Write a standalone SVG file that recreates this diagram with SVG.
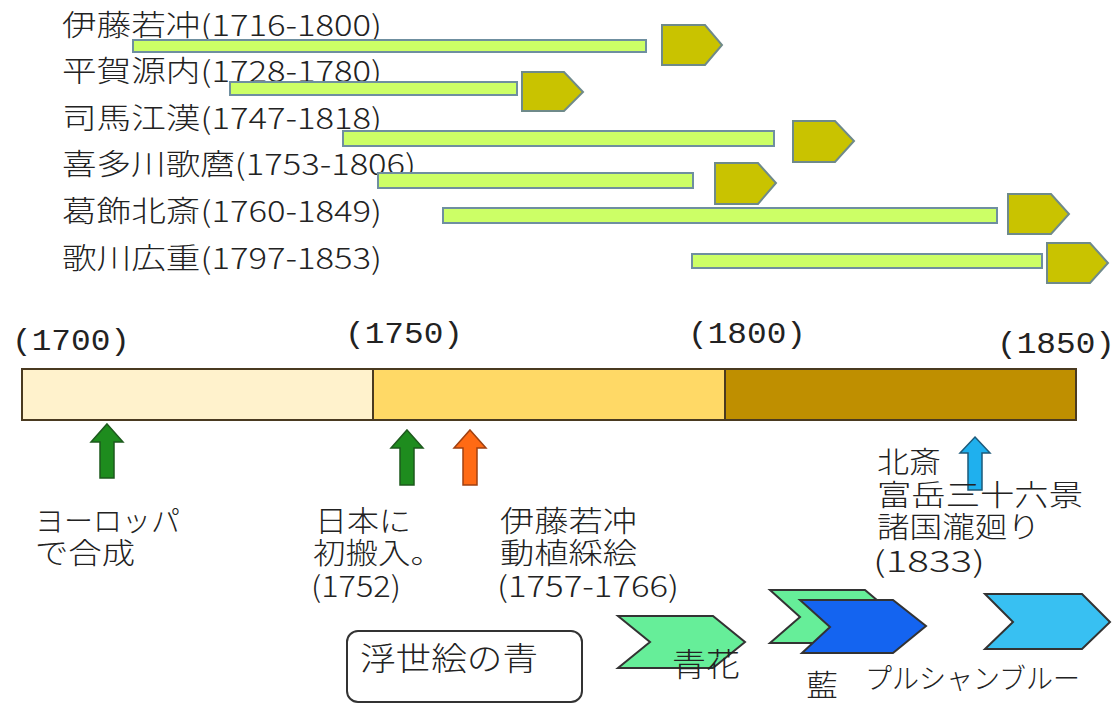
<svg xmlns="http://www.w3.org/2000/svg" width="1120" height="704" viewBox="0 0 1120 704">
<style>
.t{font-family:"Noto Sans CJK JP","Noto Sans",sans-serif;fill:#222;font-weight:300;}
.m{font-family:"Liberation Mono","DejaVu Sans Mono",monospace;fill:#222;}
.bar{fill:#ccff66;stroke:#6f8fa0;stroke-width:2;}
.pent{fill:#c9c300;stroke:#6f8a8a;stroke-width:2;}
.seg{stroke:#4a3a20;stroke-width:2;}
.ga{fill:#1e8c1e;stroke:#1d5a1d;stroke-width:1.5;}
.oa{fill:#ff6a14;stroke:#a04010;stroke-width:1.5;}
.ba{fill:#1fb0ee;stroke:#1d5a7a;stroke-width:1.5;}
.chev{stroke:#333;stroke-width:2;}
</style>
<rect width="1120" height="704" fill="#fff"/>

<g id="artists">
<g id="jakuchu">
<text class="t" x="62" y="36" font-size="29" textLength="320" lengthAdjust="spacingAndGlyphs">伊藤若冲(1716-1800)</text>
<rect class="bar" x="133" y="40" width="513" height="12"/>
<polygon class="pent" points="662,25 705,25 722,45 705,65 662,65"/>
</g>
<g id="gennai">
<text class="t" x="62" y="82" font-size="29" textLength="320" lengthAdjust="spacingAndGlyphs">平賀源内(1728-1780)</text>
<rect class="bar" x="230" y="82" width="287" height="13"/>
<polygon class="pent" points="522,72 564,72 583,92 564,111 522,111"/>
</g>
<g id="kokan">
<text class="t" x="62" y="129" font-size="29" textLength="320" lengthAdjust="spacingAndGlyphs">司馬江漢(1747-1818)</text>
<rect class="bar" x="343" y="131" width="431" height="15"/>
<polygon class="pent" points="793,121 835,121 854,141 835,162 793,162"/>
</g>
<g id="utamaro">
<text class="t" x="62" y="175" font-size="29" textLength="354" lengthAdjust="spacingAndGlyphs">喜多川歌麿(1753-1806)</text>
<rect class="bar" x="378" y="173" width="315" height="15"/>
<polygon class="pent" points="715,163 758,163 776,183 758,204 715,204"/>
</g>
<g id="hokusai">
<text class="t" x="62" y="222" font-size="29" textLength="320" lengthAdjust="spacingAndGlyphs">葛飾北斎(1760-1849)</text>
<rect class="bar" x="443" y="208" width="554" height="15"/>
<polygon class="pent" points="1008,194 1051,194 1069,214 1051,234 1008,234"/>
</g>
<g id="hiroshige">
<text class="t" x="62" y="269" font-size="29" textLength="320" lengthAdjust="spacingAndGlyphs">歌川広重(1797-1853)</text>
<rect class="bar" x="692" y="254" width="350" height="14"/>
<polygon class="pent" points="1047,243 1090,243 1108,263 1090,283 1047,283"/>
</g>
</g>

<g id="timeline">
<text class="m" x="12" y="350" font-size="30" textLength="118" lengthAdjust="spacingAndGlyphs">(1700)</text>
<text class="m" x="345" y="343" font-size="30" textLength="118" lengthAdjust="spacingAndGlyphs">(1750)</text>
<text class="m" x="688" y="343" font-size="30" textLength="118" lengthAdjust="spacingAndGlyphs">(1800)</text>
<text class="m" x="997" y="353" font-size="30" textLength="118" lengthAdjust="spacingAndGlyphs">(1850)</text>
<rect class="seg" x="22" y="369" width="351" height="51" fill="#fff2cc"/>
<rect class="seg" x="373" y="369" width="352" height="51" fill="#ffd966"/>
<rect class="seg" x="725" y="369" width="351" height="51" fill="#bf8f00"/>
</g>

<g id="connectors">
<polygon class="ga" points="107,424 123,442 114,442 114,478 100,478 100,442 91,442"/>
<polygon class="ga" points="407,430 423,448 414,448 414,485 400,485 400,448 391,448"/>
<polygon class="oa" points="470,430 486,448 477,448 477,485 463,485 463,448 454,448"/>
<polygon class="ba" points="975,437 990,453 982,453 982,490 968,490 968,453 960,453"/>
</g>

<g id="europe">
<text class="t" x="35" y="532" font-size="29" textLength="145" lengthAdjust="spacingAndGlyphs">ヨーロッパ</text>
<text class="t" x="35" y="564" font-size="29" textLength="100" lengthAdjust="spacingAndGlyphs">で合成</text>
</g>
<g id="japan">
<text class="t" x="315" y="532" font-size="29" textLength="96" lengthAdjust="spacingAndGlyphs">日本に</text>
<text class="t" x="313" y="564" font-size="29" textLength="130" lengthAdjust="spacingAndGlyphs">初搬入。</text>
<text class="t" x="311" y="597" font-size="29" textLength="90" lengthAdjust="spacingAndGlyphs">(1752)</text>
</g>
<g id="jakuchu-works">
<text class="t" x="500" y="532" font-size="29" textLength="137" lengthAdjust="spacingAndGlyphs">伊藤若冲</text>
<text class="t" x="500" y="564" font-size="29" textLength="137" lengthAdjust="spacingAndGlyphs">動植綵絵</text>
<text class="t" x="497" y="597" font-size="29" textLength="182" lengthAdjust="spacingAndGlyphs">(1757-1766)</text>
</g>
<g id="hokusai-works">
<text class="t" x="877" y="473" font-size="29" textLength="64" lengthAdjust="spacingAndGlyphs">北斎</text>
<text class="t" x="877" y="506" font-size="29" textLength="206" lengthAdjust="spacingAndGlyphs">富岳三十六景</text>
<text class="t" x="877" y="538" font-size="29" textLength="163" lengthAdjust="spacingAndGlyphs">諸国瀧廻り</text>
<text class="t" x="873" y="572" font-size="29" textLength="112" lengthAdjust="spacingAndGlyphs">(1833)</text>
</g>

<g id="ukiyoe-blue">
<rect x="347" y="631" width="235" height="71" rx="11" fill="#fff" stroke="#333" stroke-width="2"/>
<text class="t" x="360" y="670" font-size="32" textLength="178" lengthAdjust="spacingAndGlyphs">浮世絵の青</text>
</g>

<g id="seika">
<polygon class="chev" fill="#66ee99" points="618,616 713,616 745,642 713,668 618,668 650,642"/>
<text class="t" x="672" y="676" font-size="32" textLength="68" lengthAdjust="spacingAndGlyphs">青花</text>
</g>
<g id="ai">
<polygon class="chev" fill="#66ee99" points="770,590 865,590 897,617 865,643 770,643 800,617"/>
<polygon class="chev" fill="#1464f0" points="800,600 893,600 926,626 893,653 802,653 830,627"/>
<text class="t" x="806" y="696" font-size="30" textLength="32" lengthAdjust="spacingAndGlyphs">藍</text>
</g>
<g id="prussian">
<polygon class="chev" fill="#38c0f2" points="985,594 1082,594 1110,622 1082,649 985,649 1013,622"/>
<text class="t" x="865" y="689" font-size="28" textLength="215" lengthAdjust="spacingAndGlyphs">プルシャンブルー</text>
</g>
</svg>
